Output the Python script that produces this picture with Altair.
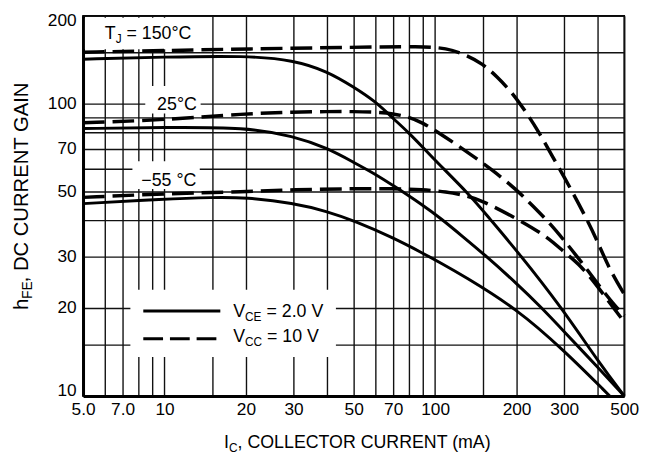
import altair as alt
import pandas as pd

# ---------------- data ----------------
# T_J = 150 C
ic_150_vce = [5, 10, 20, 30, 40, 50, 60, 70, 80, 90, 100, 135, 157, 200, 292, 408, 500]
hfe_150_vce = [142, 144.5, 146, 141, 129, 114, 102, 89, 79.5, 71, 64, 48.5, 41, 31.5, 20.2, 12.8, 10]
ic_150_vcc = [5, 10, 20, 50, 90, 110, 130, 150, 169, 193, 216, 240, 269, 318, 365, 400, 442, 500]
hfe_150_vcc = [150, 152, 154, 156, 157, 155, 147, 137, 124, 109, 94, 81, 67, 51, 40, 33.5, 27, 22.3]

# T_J = 25 C
ic_25_vce = [5, 10, 20, 30, 40, 50, 60, 70, 90, 105, 127, 150, 200, 248, 300, 400, 500]
hfe_25_vce = [82.2, 83, 83, 77.5, 70.5, 63, 57.5, 52.5, 45, 40.5, 35, 30.8, 24.3, 20, 16.6, 12.5, 10]
ic_25_vcc = [5, 10, 20, 30, 40, 50, 60, 70, 80, 90, 100, 127, 162, 200, 228, 269, 300, 345, 408, 453, 500]
hfe_25_vcc = [86, 88, 92.5, 93.6, 94, 94, 93.6, 92.5, 90, 86, 81, 70, 59.5, 50.8, 45, 38.5,
              34, 29, 23.5, 20.8, 18.8]

# T_J = -55 C
ic_m55_vce = [5, 10, 15, 20, 30, 40, 50, 70, 90, 105, 127, 200, 300, 442]
hfe_m55_vce = [45.5, 47.2, 47.8, 47.8, 45.7, 42.8, 39.8, 34.8, 30.8, 28.5, 25.8, 19.9, 14.3, 10]
ic_m55_vcc = [5, 10, 20, 30, 50, 70, 90, 110, 130, 150, 200, 261, 300, 345, 400, 453, 500]
hfe_m55_vcc = [47.8, 49.2, 50, 50.8, 51.2, 51.2, 50.8, 50, 48.5, 46.5, 40.5, 35, 31, 28, 23.6, 20.2, 17.9]

# axes
x_grid = [5, 6, 7, 8, 9, 10, 15, 20, 30, 40, 50, 60, 70, 80, 90, 100, 150, 200, 300, 400, 500]
x_label_1f = [5, 7]
x_label_int = [10, 20, 30, 50, 70, 100, 200, 300, 500]
y_grid = [10, 15, 20, 30, 40, 50, 60, 70, 80, 90, 100, 150, 200]
y_labels = [10, 20, 30, 50, 70, 100, 200]

# white label boxes (data units)
box_x1 = [5.08, 8.49, 7.61, 7.48]
box_x2 = [14.4, 13.6, 13.5, 43.0]
box_y1 = [153.5, 92.5, 51.1, 13.6]
box_y2 = [196.9, 115.0, 63.6, 23.1]

FONT = "Liberation Sans"

rows = []
for name, style, xs, ys in [
    ("150 VCE", "solid", ic_150_vce, hfe_150_vce),
    ("150 VCC", "dash", ic_150_vcc, hfe_150_vcc),
    ("25 VCE", "solid", ic_25_vce, hfe_25_vce),
    ("25 VCC", "dash", ic_25_vcc, hfe_25_vcc),
    ("-55 VCE", "solid", ic_m55_vce, hfe_m55_vce),
    ("-55 VCC", "dash", ic_m55_vcc, hfe_m55_vcc),
]:
    for i, (xv, yv) in enumerate(zip(xs, ys)):
        rows.append({"series": name, "style": style, "ic": xv, "hfe": yv, "order": i})
df = pd.DataFrame(rows)
boxes = pd.DataFrame({"x1": box_x1, "x2": box_x2, "y1": box_y1, "y2": box_y2})

xlabel_expr = (
    f"indexof({x_label_1f}, datum.value) >= 0 ? format(datum.value, '.1f') : "
    f"(indexof({x_label_int}, datum.value) >= 0 ? format(datum.value, 'd') : '')"
)
ylabel_expr = f"indexof({y_labels}, datum.value) >= 0 ? format(datum.value, 'd') : ''"

xscale = alt.Scale(type="log", domain=[5, 500], nice=False)
yscale = alt.Scale(type="log", domain=[10, 200], nice=False)

xaxis = alt.Axis(values=x_grid, labelExpr=xlabel_expr, title=None, ticks=False, tickSize=0,
                 labelPadding=5, labelFontSize=17.5, labelFont=FONT, labelColor="black",
                 labelOverlap=False, labelFlush=False, domainColor="black", domainWidth=3,
                 gridColor="#111111", gridWidth=1.4, gridOpacity=1)
yaxis = alt.Axis(values=y_grid, labelExpr=ylabel_expr, title=None, ticks=False, tickSize=0,
                 labelPadding=7, labelFontSize=17.5, labelFont=FONT, labelColor="black",
                 labelOverlap=False, labelFlush=True, labelFlushOffset=4,
                 domainColor="black", domainWidth=3,
                 gridColor="#111111", gridWidth=1.4, gridOpacity=1)

box_layer = alt.Chart(boxes).mark_rect(fill="white", stroke=None).encode(
    x=alt.X("x1:Q", scale=xscale, axis=xaxis),
    x2="x2:Q",
    y=alt.Y("y1:Q", scale=yscale, axis=yaxis),
    y2="y2:Q",
)

solid = alt.Chart(df[df["style"] == "solid"]).mark_line(
    color="black", strokeWidth=3, interpolate="basis"
).encode(
    x=alt.X("ic:Q", scale=xscale, axis=xaxis),
    y=alt.Y("hfe:Q", scale=yscale, axis=yaxis),
    detail="series:N",
    order="order:Q",
)
dashed = alt.Chart(df[df["style"] == "dash"]).mark_line(
    color="black", strokeWidth=3.5, strokeDash=[22, 8], interpolate="basis"
).encode(
    x=alt.X("ic:Q", scale=xscale, axis=xaxis),
    y=alt.Y("hfe:Q", scale=yscale, axis=yaxis),
    detail="series:N",
    order="order:Q",
)

# legend samples (plot-area pixel positions)
leg_solid = alt.Chart(boxes.head(1)).mark_rule(color="black", strokeWidth=3).encode(
    x=alt.value(61), x2=alt.value(139), y=alt.value(299))
leg_dash = alt.Chart(boxes.head(1)).mark_rule(color="black", strokeWidth=3, strokeDash=[20, 7]).encode(
    x=alt.value(61), x2=alt.value(139), y=alt.value(327))


def txt(s, x, y, size=18, angle=0):
    return alt.Chart(boxes.head(1)).mark_text(
        text=s, align="left", baseline="alphabetic", font=FONT, fontSize=size,
        color="black", angle=angle
    ).encode(x=alt.value(x), y=alt.value(y))


texts = [
    txt("T", 22, 23.5), txt("J", 33, 28, 12), txt("= 150°C", 44, 23.5),
    txt("25°C", 75, 95.5),
    txt("−55 °C", 59, 172),
    txt("V", 152, 305), txt("CE", 164, 309, 12), txt("= 2.0 V", 185.7, 305),
    txt("V", 152, 330), txt("CC", 164, 334, 12), txt("= 10 V", 186.3, 330),
    # x title
    txt("I", 142.7, 437.7), txt("C", 147.7, 442, 12), txt(", COLLECTOR CURRENT (mA)", 156.5, 437.7),
    # y title (rotated)
    txt("h", -56, 298, 20.5, 270), txt("FE", -52, 286.8, 14, 270),
    txt(", DC CURRENT GAIN", -56, 270, 20.5, 270),
]

chart = alt.layer(box_layer, solid, dashed, leg_solid, leg_dash, *texts).properties(
    width=548, height=385,
    autosize=alt.AutoSizeParams(type="none"),
    padding={"left": 76, "top": 5, "right": 18, "bottom": 57},
).configure_view(stroke="black", strokeWidth=1.7)

chart.save("out.html", embed_options={"renderer": "svg", "actions": False})
